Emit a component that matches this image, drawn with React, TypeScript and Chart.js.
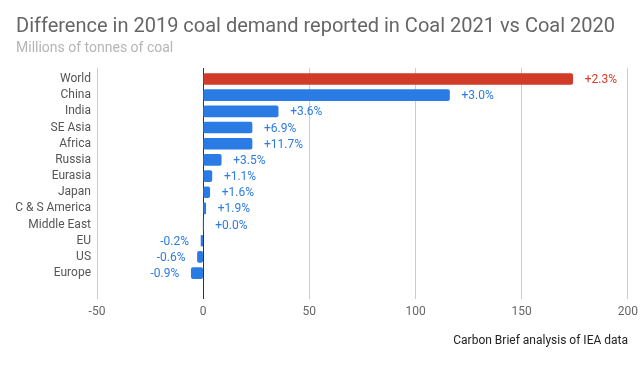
import React, { useEffect, useRef } from "react";
import { Chart, registerables } from "chart.js";

Chart.register(...registerables);

const categories = [
  "World", "China", "India", "SE Asia", "Africa", "Russia", "Eurasia",
  "Japan", "C & S America", "Middle East", "EU", "US", "Europe",
];
const values = [174, 116, 35.3, 23, 23, 8.5, 4.1, 3.1, 1.2, 0, -1, -2.7, -5.6];
const changeLabels = [
  "+2.3%", "+3.0%", "+3.6%", "+6.9%", "+11.7%", "+3.5%", "+1.1%",
  "+1.6%", "+1.9%", "+0.0%", "-0.2%", "-0.6%", "-0.9%",
];
const xTicks = [-50, 0, 50, 100, 150, 200];

const TITLE = "Difference in 2019 coal demand reported in Coal 2021 vs Coal 2020";
const SUBTITLE = "Millions of tonnes of coal";
const FOOTER = "Carbon Brief analysis of IEA data";

const BLUE = "#2b7be5";
const RED = "#d13b28";
const FONT = "Roboto";

export default function App() {
  const ref = useRef<HTMLCanvasElement | null>(null);

  useEffect(() => {
    document.body.style.margin = "0";
    const canvas = ref.current;
    if (!canvas) return;

    const colors = categories.map((_, i) => (i === 0 ? RED : BLUE));

    const textPlugin = {
      id: "texts",
      afterDraw(chart: any) {
        const { ctx } = chart;
        ctx.save();
        ctx.textBaseline = "alphabetic";
        ctx.textAlign = "left";
        ctx.font = `20px ${FONT}`;
        ctx.fillStyle = "#666666";
        ctx.fillText(TITLE, 16, 31.5);
        ctx.font = `14px ${FONT}`;
        ctx.fillStyle = "#b5b5b5";
        ctx.fillText(SUBTITLE, 16, 51.5);
        ctx.font = `12px ${FONT}`;
        ctx.fillStyle = "#222222";
        ctx.textAlign = "right";
        ctx.fillText(FOOTER, 628, 344);

        // data labels
        const meta = chart.getDatasetMeta(0);
        const xs = chart.scales.x;
        ctx.font = `12px ${FONT}`;
        ctx.textBaseline = "middle";
        meta.data.forEach((bar: any, i: number) => {
          const v = values[i];
          const zero = xs.getPixelForValue(0);
          ctx.fillStyle = colors[i];
          if (v < 0) {
            ctx.textAlign = "right";
            ctx.fillText(changeLabels[i], Math.min(bar.x, zero) - 12, bar.y + 1);
          } else {
            ctx.textAlign = "left";
            ctx.fillText(changeLabels[i], Math.max(bar.x, zero) + 12, bar.y + 1);
          }
        });
        ctx.restore();
      },
    };

    const chart = new Chart(canvas, {
      type: "bar",
      data: {
        datasets: [
          {
            data: values.map((v, i) => ({ x: v, y: i })),
            backgroundColor: colors,
            barThickness: 11,
            borderRadius: 2,
            borderSkipped: false,
          },
        ],
      },
      options: {
        indexAxis: "y",
        responsive: false,
        animation: false,
        devicePixelRatio: 1,
        layout: { padding: { top: 68, right: 16, left: 0, bottom: 0 } },
        plugins: {
          legend: { display: false },
          tooltip: { enabled: false },
          title: { display: false },
        },
        scales: {
          x: {
            type: "linear",
            min: -50,
            max: 200,
            afterBuildTicks(scale: any) {
              scale.ticks = xTicks.map((v) => ({ value: v }));
            },
            afterFit(scale: any) {
              scale.height = 66;
            },
            grid: {
              color: (c: any) => (c.tick && c.tick.value === 0 ? "#333333" : "#cccccc"),
              drawTicks: false,
              lineWidth: 1,
            },
            border: { display: false },
            ticks: {
              padding: 6,
              color: "#666666",
              font: { family: FONT, size: 12 },
              maxRotation: 0,
            },
          },
          y: {
            type: "linear",
            reverse: true,
            offset: false,
            min: -0.68,
            max: 13.6,
            afterFit(scale: any) {
              scale.width = 97;
            },
            grid: { display: false, drawTicks: false, offset: false },
            border: { display: false },
            ticks: {
              stepSize: 1,
              includeBounds: false,
              autoSkip: false,
              padding: 6,
              color: "#555555",
              font: { family: FONT, size: 12 },
              callback: (v: any) =>
                Number.isInteger(v) && categories[v] !== undefined ? categories[v] : "",
            },
          },
        },
      },
      plugins: [textPlugin],
    } as any);

    return () => chart.destroy();
  }, []);

  return (
    <div style={{ width: 644, height: 365 }}>
      <canvas ref={ref} width={644} height={365} />
    </div>
  );
}
